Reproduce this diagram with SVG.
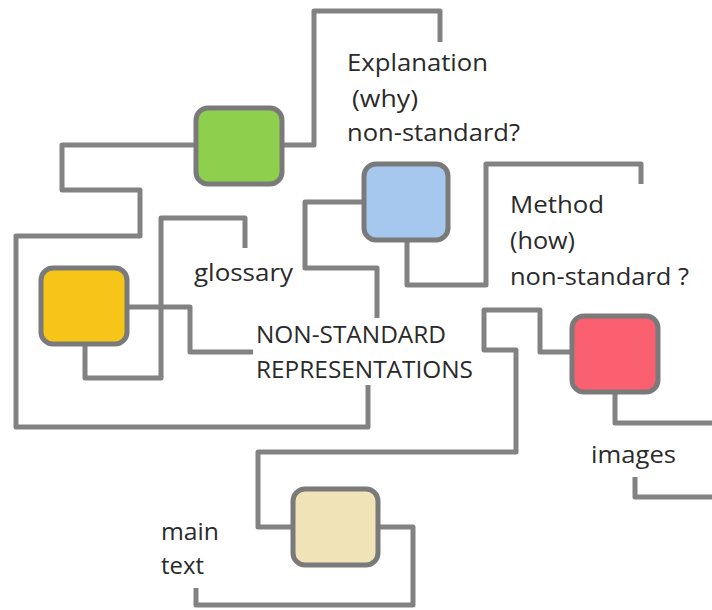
<svg xmlns="http://www.w3.org/2000/svg" width="712" height="610" viewBox="0 0 712 610">
<style>
.c{fill:none;stroke:#828282;stroke-width:5;stroke-linejoin:round;stroke-linecap:butt}
.n{stroke:#7a7a7a;stroke-width:5}
.t{font-family:"Open Sans","Noto Sans",sans-serif;font-size:23.5px;fill:#2a2a2a}
</style>
<rect width="712" height="610" fill="#ffffff"/>
<g id="connectors">
<path class="c" d="M282,145 H314 V11 H440 V42"/>
<path class="c" d="M195,145 H62 V190 H140 V236 H16 V427 H368 V385"/>
<path class="c" d="M85,344 V378 H161 V218 H245 V248"/>
<path class="c" d="M127,307 H190 V352 H253"/>
<path class="c" d="M364,202 H305 V268 H377 V318"/>
<path class="c" d="M407,240 V285 H486 V164 H641 V184"/>
<path class="c" d="M572,352 H540 V310 H484 V350 H516 V452 H258 V527 H293"/>
<path class="c" d="M615,392 V423 H712"/>
<path class="c" d="M635,477 V497 H712"/>
<path class="c" d="M378,527 H413 V605 H196 V588"/>
</g>
<g id="green"><rect class="n" x="196" y="108" width="86" height="76" rx="12" fill="#8ed04d"/></g>
<g id="yellow"><rect class="n" x="41" y="268" width="86" height="76" rx="12" fill="#f7c518"/></g>
<g id="blue"><rect class="n" x="364" y="164" width="84" height="76" rx="12" fill="#a6c7ee"/></g>
<g id="red"><rect class="n" x="572" y="316" width="86" height="76" rx="12" fill="#fa6070"/></g>
<g id="beige"><rect class="n" x="293" y="489" width="85" height="76" rx="12" fill="#efe3b7"/></g>
<g id="labels">
<text class="t" x="347" y="71" textLength="141" lengthAdjust="spacingAndGlyphs">Explanation</text>
<text class="t" x="352" y="107" textLength="66" lengthAdjust="spacingAndGlyphs">(why)</text>
<text class="t" x="347" y="141" textLength="173" lengthAdjust="spacingAndGlyphs">non-standard?</text>
<text class="t" x="510" y="213" textLength="94" lengthAdjust="spacingAndGlyphs">Method</text>
<text class="t" x="510" y="249" textLength="65" lengthAdjust="spacingAndGlyphs">(how)</text>
<text class="t" x="510" y="285" textLength="179" lengthAdjust="spacingAndGlyphs">non-standard ?</text>
<text class="t" x="194" y="281" textLength="99" lengthAdjust="spacingAndGlyphs">glossary</text>
<text class="t" x="256" y="343" textLength="190" lengthAdjust="spacingAndGlyphs">NON-STANDARD</text>
<text class="t" x="256" y="378" textLength="217" lengthAdjust="spacingAndGlyphs">REPRESENTATIONS</text>
<text class="t" x="591" y="463" textLength="85" lengthAdjust="spacingAndGlyphs">images</text>
<text class="t" x="161" y="540" textLength="58" lengthAdjust="spacingAndGlyphs">main</text>
<text class="t" x="161" y="574" textLength="43" lengthAdjust="spacingAndGlyphs">text</text>
</g>
</svg>
